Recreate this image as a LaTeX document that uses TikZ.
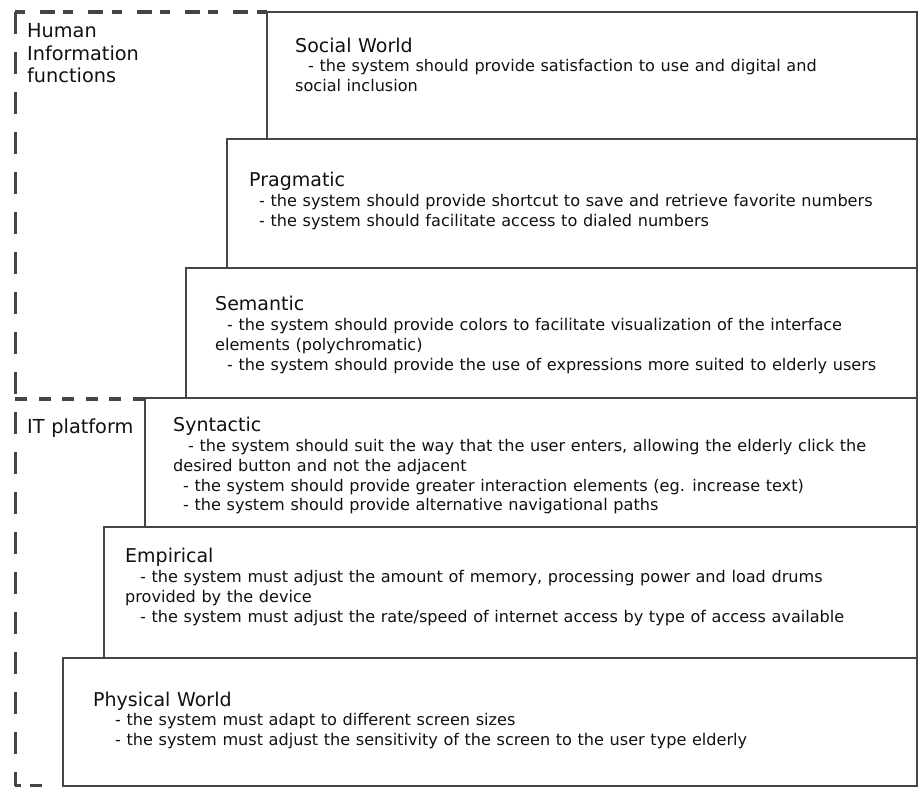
\documentclass[tikz,border=0pt]{standalone}
\usepackage{fontspec}
\setmainfont{DejaVu Sans}[WordSpace=1.1]
\definecolor{edge}{HTML}{454545}
\definecolor{ink}{HTML}{111111}
\begin{document}
\begin{tikzpicture}[x=1pt,y=-1pt,
  box/.style={draw=edge,line width=2.8pt},
  sep/.style={draw=edge,line width=3.6pt,dash pattern=on 12pt off 11.5pt},
  sepv/.style={draw=edge,line width=3pt,dash pattern=on 22pt off 18pt},
  ttl/.style={anchor=base west,inner sep=0pt,text=ink,font=\fontsize{19}{20}\selectfont},
  bdy/.style={anchor=base west,inner sep=0pt,text=ink,font=\fontsize{16.1}{20}\selectfont},
  lab/.style={anchor=base west,inner sep=0pt,text=ink,font=\fontsize{19.3}{22}\selectfont}]
\useasboundingbox (0,0) rectangle (919,787);
\fill[white] (0,0) rectangle (919,787);
% boxes
\draw[box] (267,12) rectangle (917,139);
\draw[box] (227,139) rectangle (917,268);
\draw[box] (186,268) rectangle (917,398);
\draw[box] (145,398) rectangle (917,527);
\draw[box] (104,527) rectangle (917,658);
\draw[box] (63,658) rectangle (917,786);
% dashed frame
\coordinate (tl) at (15,12);
\coordinate (tr) at (267,12);
\coordinate (ml) at (15,399);
\coordinate (mr) at (145,399);
\coordinate (bl) at (15,786);
\coordinate (br) at (63,786);
\draw[sepv,line cap=butt] (tl) -- (bl);
\draw[sep,dash pattern=on 10pt off 15pt on 15pt off 8.3pt] (tl) -- (tr);
\draw[sep] (ml) -- (mr);
\draw[sep,dash pattern=on 6pt off 9pt on 12pt off 20pt] (bl) -- (br);
% left labels
\node[lab] (h1) at (27,37) {Human};
\node[lab] (h2) at (27,60) {Information};
\node[lab] (h3) at (27,82) {functions};
\node[lab] (it) at (27,433) {IT platform};
% Social World
\node[ttl] (sw) at (295,52) {Social World};
\node[bdy] (sw1) at (308,71) {- the system should provide satisfaction to use and digital and};
\node[bdy] (sw2) at (295,91) {social inclusion};
% Pragmatic
\node[ttl] (pr) at (249,186) {Pragmatic};
\node[bdy] (pr1) at (259,206) {- the system should provide shortcut to save and retrieve favorite numbers};
\node[bdy] (pr2) at (259,226) {- the system should facilitate access to dialed numbers};
% Semantic
\node[ttl] (se) at (215,310) {Semantic};
\node[bdy] (se1) at (227,330) {- the system should provide colors to facilitate visualization of the interface};
\node[bdy] (se2) at (215,350) {elements (polychromatic)};
\node[bdy] (se3) at (227,370) {- the system should provide the use of expressions more suited to elderly users};
% Syntactic
\node[ttl] (sy) at (173,431) {Syntactic};
\node[bdy] (sy1) at (188,451) {- the system should suit the way that the user enters, allowing the elderly click the};
\node[bdy] (sy2) at (173,471) {desired button and not the adjacent};
\node[bdy] (sy3) at (183,491) {- the system should provide greater interaction elements (eg. increase text)};
\node[bdy] (sy4) at (183,510) {- the system should provide alternative navigational paths};
% Empirical
\node[ttl] (em) at (125,562) {Empirical};
\node[bdy] (em1) at (140,582) {- the system must adjust the amount of memory, processing power and load drums};
\node[bdy] (em2) at (125,602) {provided by the device};
\node[bdy] (em3) at (140,622) {- the system must adjust the rate/speed of internet access by type of access available};
% Physical World
\node[ttl] (ph) at (93,706) {Physical World};
\node[bdy] (ph1) at (115,725) {- the system must adapt to different screen sizes};
\node[bdy] (ph2) at (115,745) {- the system must adjust the sensitivity of the screen to the user type elderly};
\end{tikzpicture}
\end{document}
